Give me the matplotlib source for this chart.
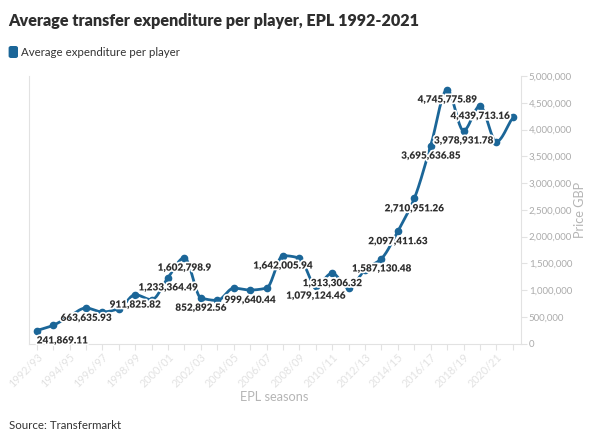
import matplotlib
matplotlib.use("Agg")
import matplotlib.pyplot as plt
import matplotlib.patheffects as pe
from matplotlib.patches import FancyBboxPatch
from matplotlib.ticker import FuncFormatter
import numpy as np

plt.rcParams['font.family'] = ['Lato', 'DejaVu Sans']

seasons = [f"{y}/{str(y + 1)[-2:]}" for y in range(1992, 2022)]
values = [241869.11, 340000, 510000, 663635.93, 590000, 650000, 911825.82, 818000,
          1233364.49, 1602798.9, 852892.56, 805000, 1035000, 999640.44, 1035000,
          1642005.94, 1598000, 1079124.46, 1313306.32, 1035000, 1380000, 1587130.48,
          2097411.63, 2710951.26, 3695636.85, 4745775.89, 3978931.78, 4439713.16,
          3773000, 4225000]
labelled = [0, 3, 6, 8, 9, 10, 13, 15, 17, 18, 21, 22, 23, 24, 25, 26, 27]

LINE = '#1b6698'
GRID = '#e2e2e2'
W, H = 600, 433


def monotone(x, y, n=24):
    # monotone cubic (Fritsch-Carlson), like d3 curveMonotoneX
    x = np.asarray(x, float)
    y = np.asarray(y, float)
    h = np.diff(x)
    d = np.diff(y) / h
    m = np.zeros_like(y)
    m[0], m[-1] = d[0], d[-1]
    for i in range(1, len(y) - 1):
        if d[i - 1] * d[i] <= 0:
            m[i] = 0
        else:
            m[i] = 2 / (1 / d[i - 1] + 1 / d[i])
    xs, ys = [], []
    for i in range(len(x) - 1):
        t = np.linspace(0, 1, n, endpoint=False)
        h00 = 2 * t**3 - 3 * t**2 + 1
        h10 = t**3 - 2 * t**2 + t
        h01 = -2 * t**3 + 3 * t**2
        h11 = t**3 - t**2
        xs.append(x[i] + t * h[i])
        ys.append(h00 * y[i] + h10 * h[i] * m[i] + h01 * y[i + 1] + h11 * h[i] * m[i + 1])
    xs.append([x[-1]])
    ys.append([y[-1]])
    return np.concatenate(xs), np.concatenate(ys)


fig = plt.figure(figsize=(6, 4.33), dpi=100)
ax = fig.add_axes([29 / W, 1 - 343.5 / H, (520.5 - 29) / W, (343.5 - 76) / H])

xi = np.arange(len(values))
sx, sy = monotone(xi, values)
ax.plot(sx, sy, color=LINE, lw=2.0, zorder=2, solid_capstyle='round', solid_joinstyle='round')
ax.plot(xi, values, 'o', color=LINE, ms=4.5, zorder=3)

halo = [pe.withStroke(linewidth=2.5, foreground='white')]
for i in labelled:
    txt = f"{values[i]:,.2f}".rstrip('0').rstrip('.')
    ha = 'left' if i == 0 else 'center'
    ax.annotate(txt, (xi[i], values[i]), xytext=(0, -7.5), textcoords='offset points',
                ha=ha, va='center', fontsize=7.2, fontweight='heavy',
                color='#2e2e2e', path_effects=halo, zorder=4)

ax.set_xlim(-0.47, 29.47)
ax.set_ylim(0, 5000000)
ax.set_xticks(xi)
ax.set_xticklabels([s if k % 2 == 0 else '' for k, s in enumerate(seasons)],
                   rotation=45, ha='right', rotation_mode='anchor',
                   fontsize=7.8, color='#bdbdbd')
ax.set_yticks(np.arange(0, 5000001, 500000))
ax.yaxis.set_major_formatter(FuncFormatter(lambda v, p: f"{int(v):,}"))
ax.yaxis.tick_right()
ax.tick_params(axis='y', colors=GRID, labelcolor='#ababab', labelsize=7, length=4, pad=2)
ax.tick_params(axis='x', colors=GRID, length=4.5, pad=1)
for s in ['left', 'right', 'bottom']:
    ax.spines[s].set_color(GRID)
    ax.spines[s].set_linewidth(0.8)
ax.spines['top'].set_visible(False)

fig.text(580 / W, 1 - 210 / H, "Price GBP", rotation=90, fontsize=9.2,
         color='#b5b5b5', va='center', ha='center')
fig.text(274.5 / W, 1 - 397 / H, "EPL seasons", fontsize=9.2,
         color='#b5b5b5', va='center', ha='center')

fig.text(8 / W, 1 - 21 / H, "Average transfer expenditure per player, EPL 1992-2021",
         fontsize=11.6, fontweight='heavy', color='#2e2e2e', va='center', ha='left')
fig.patches.append(FancyBboxPatch((9.3 / W, 1 - 57.3 / H), 8 / W, 10.6 / H,
                                  boxstyle='round,pad=0,rounding_size=0.003',
                                  transform=fig.transFigure, color=LINE))
fig.text(20.7 / W, 1 - 52.3 / H, "Average expenditure per player",
         fontsize=8.3, color='#333333', va='center', ha='left')
fig.text(9 / W, 1 - 431 / H, "Source: Transfermarkt", fontsize=8.3,
         color='#333333', va='bottom', ha='left')

fig.savefig("out.png", dpi=100)
